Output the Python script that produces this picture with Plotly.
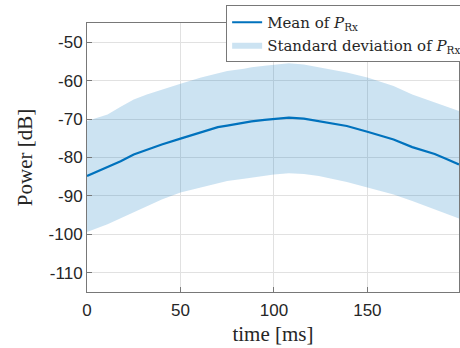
import plotly.graph_objects as go

time_ms = [0, 5, 11, 18, 25, 32, 40, 50, 61, 70, 75, 84, 88, 95, 100, 108, 116, 124, 131, 139, 150, 157, 164, 174, 180, 186, 192, 199]
mean_db = [-84.8, -83.8, -82.6, -81.0, -79.2, -78.0, -76.6, -75.1, -73.4, -72.1, -71.7, -70.9, -70.6, -70.2, -69.9, -69.6, -69.9, -70.5, -71.1, -71.8, -73.3, -74.3, -75.3, -77.3, -78.1, -79.1, -80.3, -81.8]
upper_db = [-70.5, -69.8, -68.8, -66.8, -64.9, -63.6, -62.3, -60.8, -59.2, -58.2, -57.5, -56.9, -56.5, -56.1, -55.8, -55.5, -55.8, -56.5, -57.1, -57.9, -59.2, -60.3, -61.4, -63.6, -64.6, -65.7, -66.7, -67.9]
lower_db = [-99.4, -98.5, -97.4, -95.8, -94.3, -92.6, -90.9, -89.1, -87.8, -86.7, -86.1, -85.5, -85.2, -84.7, -84.4, -84.1, -84.3, -84.8, -85.5, -86.4, -87.8, -88.7, -89.6, -91.3, -92.4, -93.5, -94.6, -95.9]

x_ticks = [0, 50, 100, 150]
x_ticktext = ["0", "50", "100", "150"]
y_ticks = [-110, -100, -90, -80, -70, -60, -50]
y_ticktext = ["-110", "-100", "-90", "-80", "-70", "-60", "-50"]

blue = "#0072BD"
fill = "rgba(0,114,189,0.2)"
serif = "Liberation Serif, DejaVu Serif, serif"
sans = "Liberation Sans, Arial, sans-serif"

fig = go.Figure()
fig.add_trace(go.Scatter(x=time_ms, y=upper_db, mode="lines", line=dict(width=0),
                         showlegend=False, hoverinfo="skip"))
fig.add_trace(go.Scatter(x=time_ms, y=lower_db, mode="lines", line=dict(width=0),
                         fill="tonexty", fillcolor=fill,
                         name="Standard deviation of <i>P</i><sub>Rx</sub>", legendrank=2))
fig.add_trace(go.Scatter(x=time_ms, y=mean_db, mode="lines", line=dict(color=blue, width=2.2),
                         name="Mean of <i>P</i><sub>Rx</sub>", legendrank=1))

axis_common = dict(showline=True, linecolor="rgb(120,120,120)", linewidth=1, mirror=True,
                   ticks="inside", ticklen=5, tickcolor="rgb(120,120,120)",
                   showgrid=True, gridcolor="rgb(225,225,225)", gridwidth=1, zeroline=False,
                   automargin=False,
                   tickfont=dict(family=sans, size=17, color="#262626"))

fig.update_layout(
    width=460, height=348,
    margin=dict(l=87, r=1, t=23, b=56, autoexpand=False),
    plot_bgcolor="white", paper_bgcolor="white",
    xaxis=dict(range=[0, 199], tickvals=x_ticks, ticktext=x_ticktext, ticklabelstandoff=3,
               title=dict(text="time [ms]", font=dict(family=serif, size=21, color="#262626"), standoff=6),
               **axis_common),
    yaxis=dict(range=[-115, -45], tickvals=y_ticks, ticktext=y_ticktext,
               title=dict(text="Power [dB]", font=dict(family=serif, size=21, color="#262626"), standoff=10),
               **axis_common),
    legend=dict(x=0.374, y=1.067, xanchor="left", yanchor="top",
                bgcolor="white", bordercolor="rgb(120,120,120)", borderwidth=1,
                font=dict(family="DejaVu Serif, serif", size=15, color="#262626"),
                traceorder="normal", tracegroupgap=0, itemwidth=30),
    showlegend=True,
)

fig.write_html("out.html", config={"displayModeBar": False},
               post_script="document.body.style.margin='0';")
